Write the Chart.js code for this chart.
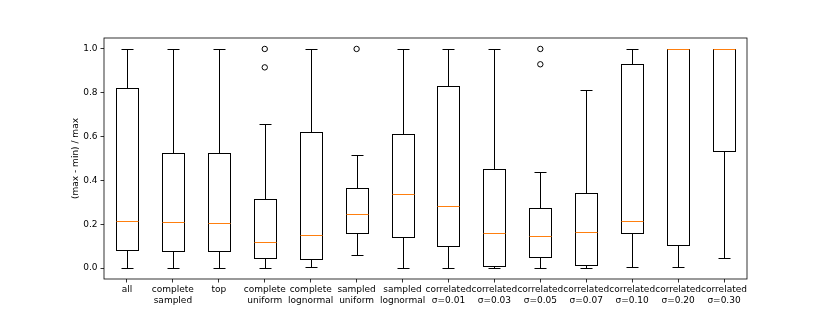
<!DOCTYPE html>
<html>
<head>
<meta charset="utf-8">
<script src="https://cdn.jsdelivr.net/npm/chart.js@4"></script>
<style>
  html, body { margin: 0; padding: 0; background: #fff; }
  #wrap { width: 830px; height: 320px; }
</style>
</head>
<body>
<div id="wrap"><canvas id="box"></canvas></div>
<script>
// categories
const labels = [
  'all', ['complete', 'sampled'], 'top', ['complete', 'uniform'], ['complete', 'lognormal'],
  ['sampled', 'uniform'], ['sampled', 'lognormal'],
  ['correlated', 'σ=0.01'], ['correlated', 'σ=0.03'], ['correlated', 'σ=0.05'],
  ['correlated', 'σ=0.07'], ['correlated', 'σ=0.10'], ['correlated', 'σ=0.20'], ['correlated', 'σ=0.30']
];

// box stats
const whiskerLow  = [0.000, 0.000, 0.000, 0.000, 0.006, 0.061, 0.000, 0.001, 0.000, 0.000, 0.000, 0.003, 0.003, 0.044];
const q1          = [0.084, 0.076, 0.076, 0.047, 0.043, 0.160, 0.143, 0.099, 0.011, 0.049, 0.014, 0.160, 0.105, 0.536];
const median      = [0.216, 0.211, 0.205, 0.119, 0.149, 0.248, 0.340, 0.281, 0.161, 0.148, 0.164, 0.216, 1.000, 1.000];
const q3          = [0.822, 0.526, 0.526, 0.313, 0.620, 0.366, 0.612, 0.830, 0.454, 0.272, 0.344, 0.932, 1.000, 1.000];
const whiskerHigh = [1.000, 1.000, 1.000, 0.658, 1.000, 0.514, 1.000, 1.000, 1.000, 0.439, 0.813, 1.000, 1.000, 1.000];

// fliers
const outlierCat = [3, 3, 5, 9, 9];
const outlierVal = [1.000, 0.916, 1.000, 1.000, 0.930];

const yTicks = [0.0, 0.2, 0.4, 0.6, 0.8, 1.0];

const FONT = { family: 'DejaVu Sans', size: 9 };

// box outlines, whiskers, caps, medians, fliers and the frame
const boxExtras = {
  id: 'boxExtras',
  afterDatasetsDraw(chart) {
    const { ctx, chartArea, scales: { x, y } } = chart;
    const bars = chart.getDatasetMeta(0).data;
    const py = v => Math.round(y.getPixelForValue(v)) + 0.5;
    ctx.save();
    labels.forEach((_, i) => {
      const cx = Math.round(x.getPixelForValue(i)) + 0.5;
      const half = Math.round(bars[i].width / 2);
      const cap = Math.round(half / 2);
      const top = py(q3[i]);
      const bot = py(q1[i]);
      ctx.strokeStyle = '#000';
      ctx.lineWidth = 1;
      ctx.strokeRect(cx - half, top, half * 2, bot - top);
      ctx.beginPath();
      ctx.moveTo(cx, top);
      ctx.lineTo(cx, py(whiskerHigh[i]));
      ctx.moveTo(cx, bot);
      ctx.lineTo(cx, py(whiskerLow[i]));
      ctx.moveTo(cx - cap, py(whiskerHigh[i]));
      ctx.lineTo(cx + cap, py(whiskerHigh[i]));
      ctx.moveTo(cx - cap, py(whiskerLow[i]));
      ctx.lineTo(cx + cap, py(whiskerLow[i]));
      ctx.stroke();

      ctx.strokeStyle = '#ff7f0e';
      ctx.beginPath();
      ctx.moveTo(cx - half, py(median[i]));
      ctx.lineTo(cx + half, py(median[i]));
      ctx.stroke();
    });

    ctx.strokeStyle = '#000';
    ctx.lineWidth = 1;
    outlierCat.forEach((c, k) => {
      ctx.beginPath();
      ctx.arc(x.getPixelForValue(c), y.getPixelForValue(outlierVal[k]), 2.7, 0, Math.PI * 2);
      ctx.stroke();
    });

    ctx.lineWidth = 0.8;
    ctx.strokeRect(chartArea.left, chartArea.top, chartArea.right - chartArea.left, chartArea.bottom - chartArea.top);
    ctx.restore();
  }
};

new Chart(document.getElementById('box'), {
  type: 'bar',
  data: {
    labels,
    datasets: [{
      data: q1.map((v, i) => [v, q3[i]]),
      backgroundColor: 'rgba(0,0,0,0)',
      borderWidth: 0,
      categoryPercentage: 1,
      barPercentage: 0.5
    }]
  },
  options: {
    responsive: true,
    maintainAspectRatio: false,
    animation: false,
    layout: { padding: { left: 0, top: 38, right: 83, bottom: 0 } },
    plugins: { legend: { display: false }, tooltip: { enabled: false } },
    scales: {
      x: {
        grid: { display: true, drawOnChartArea: false, offset: false, tickLength: 3.5, color: '#000', tickWidth: 0.8 },
        border: { display: false },
        ticks: { color: '#000', font: FONT, padding: 2, maxRotation: 0, autoSkip: false },
        afterFit: s => { s.height = 41; }
      },
      y: {
        min: -0.05,
        max: 1.05,
        afterBuildTicks: s => { s.ticks = yTicks.map(v => ({ value: v })); },
        grid: { display: true, drawOnChartArea: false, tickLength: 3.5, color: '#000', tickWidth: 0.8 },
        border: { display: false },
        ticks: { color: '#000', font: FONT, padding: 3, callback: v => v.toFixed(1) },
        title: { display: true, text: '(max - min) / max', color: '#000', font: FONT, padding: { top: 70, bottom: 0 } },
        afterFit: s => { s.width = 104; }
      }
    }
  },
  plugins: [boxExtras]
});
</script>
</body>
</html>
